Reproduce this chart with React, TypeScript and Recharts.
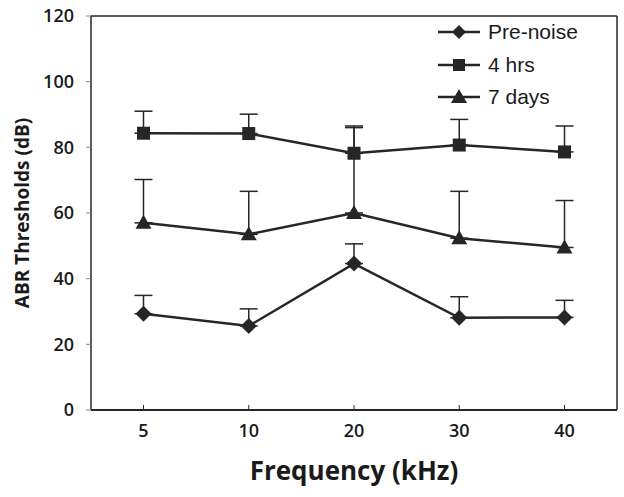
import React from 'react';
import { CartesianGrid, ErrorBar, Label, Legend, Line, LineChart, XAxis, YAxis } from 'recharts';

// frequencies (kHz)
const freqs = ['5', '10', '20', '30', '40'];

// mean thresholds (dB) and SD (upper bar only)
const preNoise = [29.3, 25.6, 44.6, 28.1, 28.2];
const preNoiseSd = [5.6, 5.2, 6.0, 6.4, 5.2];
const fourHrs = [84.3, 84.2, 78.2, 80.7, 78.6];
const fourHrsSd = [6.7, 5.9, 8.3, 7.8, 7.9];
const sevenDays = [57.0, 53.5, 60.0, 52.3, 49.5];
const sevenDaysSd = [13.2, 13.1, 26.0, 14.3, 14.3];

const yTicks = [0, 20, 40, 60, 80, 100, 120];

const data = freqs.map((f, i) => ({
   freq: f,
   pre: preNoise[i],
   preErr: [0, preNoiseSd[i]],
   hrs: fourHrs[i],
   hrsErr: [0, fourHrsSd[i]],
   days: sevenDays[i],
   daysErr: [0, sevenDaysSd[i]],
}));

const INK = '#262626';

const Diamond = (props: any) => {
   const { cx, cy } = props;
   if (cx == null || cy == null) return null;
   const r = 8;
   return <path key={`d-${cx}`} d={`M${cx},${cy - r}L${cx + r},${cy}L${cx},${cy + r}L${cx - r},${cy}Z`} fill={INK} />;
};

const Square = (props: any) => {
   const { cx, cy } = props;
   if (cx == null || cy == null) return null;
   const s = 6.5;
   return <rect key={`s-${cx}`} x={cx - s} y={cy - s} width={s * 2} height={s * 2} fill={INK} />;
};

const Triangle = (props: any) => {
   const { cx, cy } = props;
   if (cx == null || cy == null) return null;
   return <path key={`t-${cx}`} d={`M${cx},${cy - 8}L${cx + 8},${cy + 6}L${cx - 8},${cy + 6}Z`} fill={INK} />;
};

const legendItems = [
   { label: 'Pre-noise', shape: 'diamond' },
   { label: '4 hrs', shape: 'square' },
   { label: '7 days', shape: 'triangle' },
];

function LegendBox() {
   return (
      <div style={{ fontFamily: '"Liberation Sans", Arial, sans-serif', fontSize: 21, color: '#1a1a1a' }}>
         {legendItems.map((it) => (
            <div key={it.label} style={{ display: 'flex', alignItems: 'center', height: 32.5 }}>
               <svg width={46} height={20} style={{ marginRight: 6 }}>
                  <line x1={2} y1={10} x2={44} y2={10} stroke={INK} strokeWidth={2.5} />
                  {it.shape === 'diamond' && <path d="M23,3L30,10L23,17L16,10Z" fill={INK} />}
                  {it.shape === 'square' && <rect x={17} y={4} width={12} height={12} fill={INK} />}
                  {it.shape === 'triangle' && <path d="M23,2L31,16L15,16Z" fill={INK} />}
               </svg>
               <span>{it.label}</span>
            </div>
         ))}
      </div>
   );
}

const tickStyle = { fontFamily: '"Open Sans", sans-serif', fontSize: 18, fontWeight: 600, fill: '#1a1a1a' };
const titleStyle = { fontFamily: '"Open Sans", sans-serif', fontWeight: 700, fill: '#1a1a1a' };
const xPad = { left: 52.5, right: 52.5 };

const YTitle = (props: any) => {
   const vb = props.viewBox || {};
   const x = vb.x + 22;
   const y = vb.y + vb.height / 2;
   return (
      <text x={x} y={y} transform={`rotate(-90, ${x}, ${y})`} textAnchor="middle" dominantBaseline="central" style={{ ...titleStyle, fontSize: 19 }}>
         ABR Thresholds (dB)
      </text>
   );
};

export default function App() {
   return (
      <div style={{ position: 'absolute', left: 0, top: 0, width: 624, height: 497, background: '#fff' }}>
         <LineChart width={624} height={497} data={data} margin={{ top: 16, right: 7, bottom: 0, left: 0 }}>
            {/* frame on top and right */}
            <CartesianGrid
               stroke={INK}
               strokeWidth={1.5}
               horizontalCoordinatesGenerator={({ offset }: any) => [offset.top]}
               verticalCoordinatesGenerator={({ offset }: any) => [offset.left + offset.width]}
            />
            <XAxis
               dataKey="freq"
               height={87}
               padding={xPad}
               axisLine={{ stroke: INK, strokeWidth: 2 }}
               tickLine={{ stroke: INK }}
               tickSize={-5}
               tickMargin={19}
               tick={tickStyle}
            >
               <Label value="Frequency (kHz)" position="center" dy={17} style={{ ...titleStyle, fontSize: 26 }} />
            </XAxis>
            <YAxis
               domain={[0, 120]}
               ticks={yTicks}
               width={91}
               axisLine={{ stroke: INK, strokeWidth: 1.5 }}
               tickLine={{ stroke: '#888' }}
               tickSize={5}
               tickMargin={12}
               tick={tickStyle}
            >
               <Label content={YTitle} />
            </YAxis>
            <Legend
               layout="vertical"
               align="center"
               verticalAlign="middle"
               wrapperStyle={{ position: 'absolute', top: 16, left: 436, width: 180 }}
               content={() => <LegendBox />}
            />
            <Line dataKey="hrs" stroke={INK} strokeWidth={2.5} dot={Square} isAnimationActive={false}>
               <ErrorBar dataKey="hrsErr" direction="y" width={9} stroke={INK} strokeWidth={1.5} />
            </Line>
            <Line dataKey="days" stroke={INK} strokeWidth={2.5} dot={Triangle} isAnimationActive={false}>
               <ErrorBar dataKey="daysErr" direction="y" width={9} stroke={INK} strokeWidth={1.5} />
            </Line>
            <Line dataKey="pre" stroke={INK} strokeWidth={2.5} dot={Diamond} isAnimationActive={false}>
               <ErrorBar dataKey="preErr" direction="y" width={9} stroke={INK} strokeWidth={1.5} />
            </Line>
         </LineChart>
      </div>
   );
}
